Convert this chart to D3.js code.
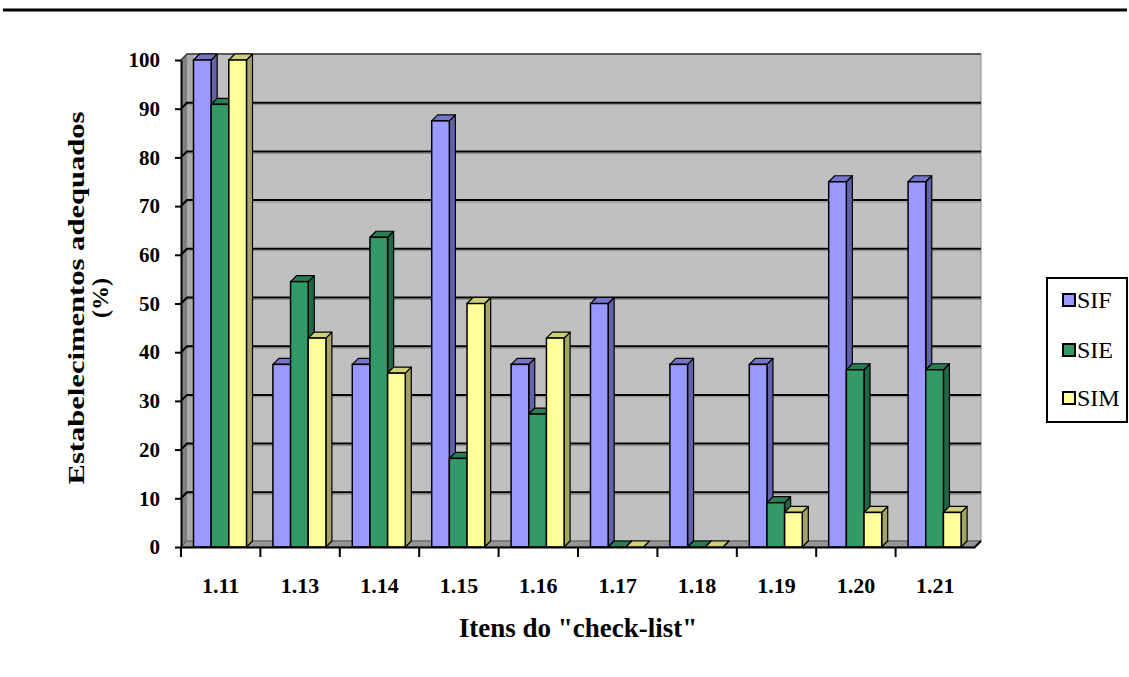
<!DOCTYPE html>
<html>
<head>
<meta charset="utf-8">
<script src="https://cdn.jsdelivr.net/npm/d3@7/dist/d3.min.js"></script>
<style>
  html, body { margin: 0; padding: 0; background: #fff; }
  svg { display: block; }
  text { font-family: "Liberation Serif", "Times New Roman", serif; }
</style>
</head>
<body>
<svg id="chart" width="1129" height="677"></svg>
<script>
// Check-list items on the horizontal axis
const categories = ["1.11", "1.13", "1.14", "1.15", "1.16", "1.17", "1.18", "1.19", "1.20", "1.21"];
// Percentage of adequate establishments per inspection service
const seriesNames = ["SIF", "SIE", "SIM"];
const sifValues = [100, 37.5, 37.5, 87.5, 37.5, 50, 37.5, 37.5, 75, 75];
const sieValues = [90.9, 54.5, 63.6, 18.2, 27.3, 0, 0, 9.1, 36.4, 36.4];
const simValues = [100, 42.9, 35.7, 50, 42.9, 0, 0, 7.1, 7.1, 7.1];
const yTickValues = [0, 10, 20, 30, 40, 50, 60, 70, 80, 90, 100];

const seriesValues = { SIF: sifValues, SIE: sieValues, SIM: simValues };
const palette = {
  SIF: { front: "#9999ff", side: "#6262a8", top: "#7474c8" },
  SIE: { front: "#339966", side: "#226644", top: "#2b7d55" },
  SIM: { front: "#ffff99", side: "#a3a366", top: "#d0d07a" }
};

const svg = d3.select("#chart");

// Plot frame
const plotLeft = 181, plotRight = 975, plotBottom = 547, plotTop = 60;
const wallDx = 6, wallDy = -6;   // depth of the back wall
const barDx = 6, barDy = -6;     // depth of each column

const x = d3.scaleBand().domain(categories).range([plotLeft, plotRight]).padding(0);
const xs = d3.scaleBand().domain(seriesNames).range([12.5, 12.5 + 53]).padding(0);
const y = d3.scaleLinear().domain([0, 100]).range([plotBottom, plotTop]);

// Rule across the top of the page
svg.append("line").attr("x1", 3).attr("x2", 1127).attr("y1", 10).attr("y2", 10)
  .attr("stroke", "#000").attr("stroke-width", 3);

const g = svg.append("g");

// Back wall
g.append("rect")
  .attr("x", plotLeft + wallDx).attr("y", plotTop + wallDy)
  .attr("width", plotRight - plotLeft).attr("height", plotBottom - plotTop)
  .attr("fill", "#c0c0c0").attr("stroke", "#8a8a8a").attr("stroke-width", 1);
// Lighter strip where the side wall meets the back wall
g.append("rect")
  .attr("x", plotLeft + wallDx).attr("y", plotTop + wallDy)
  .attr("width", 7).attr("height", plotBottom - plotTop)
  .attr("fill", "#ababab");
// Side wall
g.append("path")
  .attr("d", `M${plotLeft},${plotBottom} L${plotLeft},${plotTop} L${plotLeft + wallDx},${plotTop + wallDy} L${plotLeft + wallDx},${plotBottom + wallDy} Z`)
  .attr("fill", "#808080");
// Top edge of the back wall
g.append("path")
  .attr("d", `M${plotLeft},${plotTop} L${plotLeft + wallDx},${plotTop + wallDy} L${plotRight + wallDx},${plotTop + wallDy}`)
  .attr("fill", "none").attr("stroke", "#3a3a3a").attr("stroke-width", 1.5);

// Gridlines on the walls
const grid = g.append("g");
yTickValues.filter(v => v > 0 && v < 100).forEach(v => {
  const yy = y(v);
  grid.append("line")
    .attr("x1", plotLeft + wallDx).attr("x2", plotRight + wallDx)
    .attr("y1", yy + wallDy + 2).attr("y2", yy + wallDy + 2)
    .attr("stroke", "#8c8c8c").attr("stroke-width", 1);
  grid.append("path")
    .attr("d", `M${plotLeft},${yy} L${plotLeft + wallDx},${yy + wallDy} L${plotRight + wallDx},${yy + wallDy}`)
    .attr("fill", "none").attr("stroke", "#000").attr("stroke-width", 2);
});

// Floor
g.append("path")
  .attr("d", `M${plotLeft},${plotBottom} L${plotRight},${plotBottom} L${plotRight + wallDx},${plotBottom + wallDy} L${plotLeft + wallDx},${plotBottom + wallDy} Z`)
  .attr("fill", "#969696").attr("stroke", "#555").attr("stroke-width", 1);

// Columns, drawn left to right so each one covers its neighbour's side face
const bars = g.append("g");
const barData = [];
categories.forEach((c, i) => {
  seriesNames.forEach(s => barData.push({ cat: c, series: s, value: seriesValues[s][i] }));
});
barData.forEach(d => {
  const x0 = x(d.cat) + xs(d.series);
  const w = xs.bandwidth();
  const yt = y(d.value);
  const col = palette[d.series];
  const bg = bars.append("g");
  // side face
  bg.append("path")
    .attr("d", `M${x0 + w},${plotBottom} L${x0 + w},${yt} L${x0 + w + barDx},${yt + barDy} L${x0 + w + barDx},${plotBottom + barDy} Z`)
    .attr("fill", col.side).attr("stroke", "#000").attr("stroke-width", 1.2).attr("stroke-linejoin", "round");
  // top face
  bg.append("path")
    .attr("d", `M${x0},${yt} L${x0 + barDx},${yt + barDy} L${x0 + w + barDx},${yt + barDy} L${x0 + w},${yt} Z`)
    .attr("fill", col.top).attr("stroke", "#000").attr("stroke-width", 1.2).attr("stroke-linejoin", "round");
  // front face
  bg.append("rect")
    .attr("x", x0).attr("y", yt).attr("width", w).attr("height", plotBottom - yt)
    .attr("fill", col.front).attr("stroke", "#000").attr("stroke-width", 1.5);
});

// Y axis
const yAxis = svg.append("g")
  .attr("transform", `translate(${plotLeft},0)`)
  .call(d3.axisLeft(y).tickValues(yTickValues).tickSize(6).tickPadding(15).tickSizeOuter(0));
yAxis.select(".domain").attr("stroke", "#000").attr("stroke-width", 2);
yAxis.selectAll(".tick line").attr("stroke", "#000").attr("stroke-width", 2);
yAxis.selectAll(".tick text")
  .attr("font-size", 21).attr("font-weight", "bold").attr("fill", "#000")
  .attr("font-family", "Liberation Serif, serif");

// X axis: labels under each item, tick marks on the band boundaries
const xAxis = svg.append("g")
  .attr("transform", `translate(0,${plotBottom})`)
  .call(d3.axisBottom(x).tickSize(0).tickPadding(46).tickSizeOuter(0));
xAxis.select(".domain").attr("stroke", "#000").attr("stroke-width", 2);
xAxis.selectAll(".tick text")
  .attr("font-size", 22).attr("font-weight", "bold").attr("fill", "#000")
  .attr("font-family", "Liberation Serif, serif")
  .attr("dy", "0");
xAxis.selectAll(".boundary")
  .data(categories)
  .enter().append("line")
  .attr("class", "boundary")
  .attr("x1", d => x(d)).attr("x2", d => x(d))
  .attr("y1", 0).attr("y2", 10)
  .attr("stroke", "#000").attr("stroke-width", 2);
// Floor depth at the right end of the axis
svg.append("line")
  .attr("x1", plotRight).attr("y1", plotBottom).attr("x2", plotRight + wallDx).attr("y2", plotBottom + wallDy)
  .attr("stroke", "#000").attr("stroke-width", 2);

// Axis titles
svg.append("text")
  .attr("x", 578).attr("y", 637)
  .attr("text-anchor", "middle")
  .attr("font-size", 27).attr("font-weight", "bold")
  .text('Itens do "check-list"');

const yTitle = svg.append("g").attr("transform", "translate(0,298) rotate(-90)");
yTitle.append("text")
  .attr("x", 0).attr("y", 84)
  .attr("text-anchor", "middle")
  .attr("font-size", 24).attr("font-weight", "bold")
  .attr("textLength", 373).attr("lengthAdjust", "spacingAndGlyphs")
  .text("Estabelecimentos adequados");
yTitle.append("text")
  .attr("x", 0).attr("y", 108)
  .attr("text-anchor", "middle")
  .attr("font-size", 24).attr("font-weight", "bold")
  .text("(%)");

// Legend
const legend = svg.append("g");
legend.append("rect")
  .attr("x", 1047).attr("y", 278).attr("width", 80).attr("height", 144)
  .attr("fill", "#fff").attr("stroke", "#000").attr("stroke-width", 2);
const legendY = [300, 350, 398];
seriesNames.forEach((s, i) => {
  legend.append("rect")
    .attr("x", 1063).attr("y", legendY[i] - 6).attr("width", 12).attr("height", 12)
    .attr("fill", palette[s].front).attr("stroke", "#000").attr("stroke-width", 2);
  legend.append("text")
    .attr("x", 1077).attr("y", legendY[i] + 8)
    .attr("font-size", 24)
    .attr("font-family", "Liberation Serif, serif")
    .text(s);
});
</script>
</body>
</html>
